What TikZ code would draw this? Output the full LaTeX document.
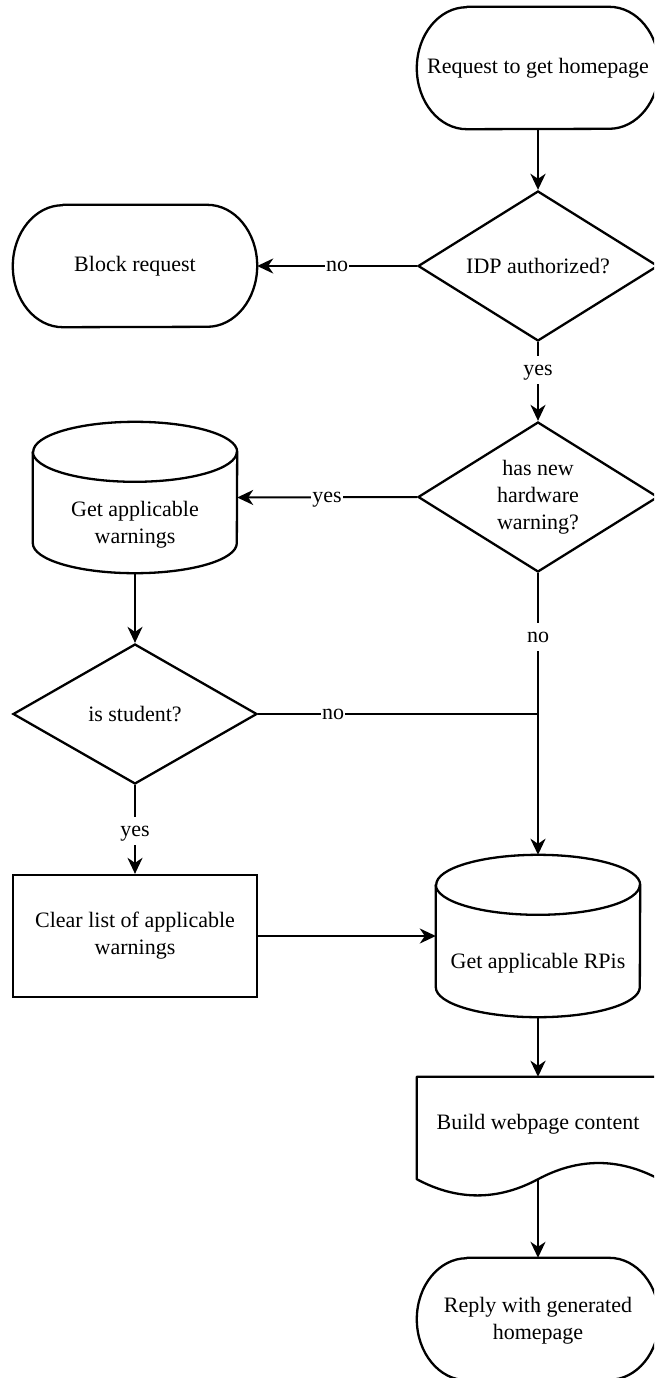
\documentclass[tikz,border=0pt]{standalone}
\usepackage{fontspec}
\setmainfont{Liberation Serif}
\usetikzlibrary{shapes.geometric,arrows.meta}

\begin{document}
\begin{tikzpicture}[x=1pt,y=-1pt,
  every node/.style={font=\fontsize{22}{27}\selectfont, align=center},
  outline/.style={draw=black, line width=2.3pt, fill=white, line join=round},
  area/.style={draw=none, inner sep=0pt},
  terminal/.style={area, minimum width=242pt, minimum height=122pt},
  decision/.style={diamond, aspect=1.6, draw=black, line width=2.3pt, fill=white, inner sep=0pt},
  process/.style={draw=black, line width=2.3pt, fill=white, minimum width=244pt, minimum height=122pt, inner sep=0pt},
  flow/.style={draw=black, line width=2pt, -{Stealth[length=16pt,width=15pt,inset=5pt]}},
  plain/.style={draw=black, line width=2pt},
  heavy/.style={line width=2.8pt},
  tag/.style={fill=white, inner xsep=1pt, inner ysep=3pt, text height=16pt, text depth=6pt}
]
\fill[white] (0,0) rectangle (654,1378);
\useasboundingbox (0,0) rectangle (654,1378);
\clip (0,0) rectangle (654,1378);

% ---- node areas ----
\node[terminal] (start) at (538,68) {};
\node[terminal, minimum width=244pt] (block) at (135,266) {};
\node[area, minimum width=204pt, minimum height=151pt] (warn) at (135,497.5) {};
\node[area, minimum width=204pt, minimum height=162pt] (rpis) at (538,936) {};
\node[area, minimum width=242pt, minimum height=120pt] (build) at (538,1137) {};
\node[terminal] (reply) at (538,1319) {};

% ---- terminal outlines ----
\foreach \n in {start,block,reply}{
  \draw[outline] ([xshift=50pt]\n.north west) -- ([xshift=-50pt]\n.north east)
    arc[start angle=90,end angle=-90,x radius=50pt,y radius=61pt]
    -- ([xshift=50pt]\n.south west)
    arc[start angle=270,end angle=90,x radius=50pt,y radius=61pt] -- cycle;
}

% ---- cylinder outlines ----
\foreach \n in {warn,rpis}{
  \draw[outline] ([yshift=-30pt]\n.north west) -- ([yshift=30pt]\n.south west)
    arc[start angle=180,end angle=360,x radius=102pt,y radius=30pt]
    -- ([yshift=-30pt]\n.north east)
    arc[start angle=0,end angle=180,x radius=102pt,y radius=30pt] -- cycle;
  \draw[outline, fill=none] ([yshift=-30pt]\n.north west)
    arc[start angle=180,end angle=360,x radius=102pt,y radius=30pt];
}

% ---- document outline with wavy bottom ----
\coordinate (wave) at ([yshift=18pt]build.south);
\draw[outline] (build.north west) -- (build.north east) -- ([yshift=18pt]build.south east)
  .. controls +(-40.33pt,21.6pt) and +(40.33pt,21.6pt) .. (wave)
  .. controls +(-40.33pt,-21.6pt) and +(40.33pt,-21.6pt) .. ([yshift=18pt]build.south west) -- cycle;

% ---- texts ----
\node at (start.center) {Request to get homepage};
\node at (block.center) {Block request};
\node at ([yshift=-27pt]warn.center) {Get applicable\\warnings};
\node at ([yshift=-27pt]rpis.center) {Get applicable RPis};
\node at ([yshift=13pt]build.center) {Build webpage content};
\node at ([yshift=-2pt]reply.center) {Reply with generated\\homepage};

% ---- decisions and process ----
\node[decision, minimum width=240pt, minimum height=150pt] (auth) at (538,266) {IDP authorized?};
\node[decision, minimum width=240pt, minimum height=150pt] (hw) at (538,497) {has new\\hardware\\warning?};
\node[decision, minimum width=244pt, minimum height=140pt] (stud) at (135,714) {is student?};
\node[process] (clear) at (135,936) {Clear list of applicable\\warnings};

\coordinate (join) at (538,714);

% ---- connectors ----
\draw[flow, heavy] (start.south) -- (auth.north);
\draw[flow] (auth.west) -- (block.east);
\draw[flow] (auth.south) -- (hw.north);
\draw[flow] (hw.west) -- (warn.east);
\draw[flow] (warn.south) -- (stud.north);
\draw[flow] (stud.south) -- (clear.north);
\draw[plain] (stud.east) -- (join);
\draw[plain] (hw.south) -- (join);
\draw[flow, heavy] (join) -- (rpis.north);
\draw[flow] (clear.east) -- (rpis.west);
\draw[flow, heavy] (rpis.south) -- (build.north);
\draw[flow] (wave) -- (reply.north);

% ---- connector labels ----
\node[tag] at (337,266) {no};
\node[tag] at (538,370) {yes};
\node[tag] at (327,497) {yes};
\node[tag] at (538,637) {no};
\node[tag] at (333,714) {no};
\node[tag] at (135,831) {yes};
\end{tikzpicture}
\end{document}
